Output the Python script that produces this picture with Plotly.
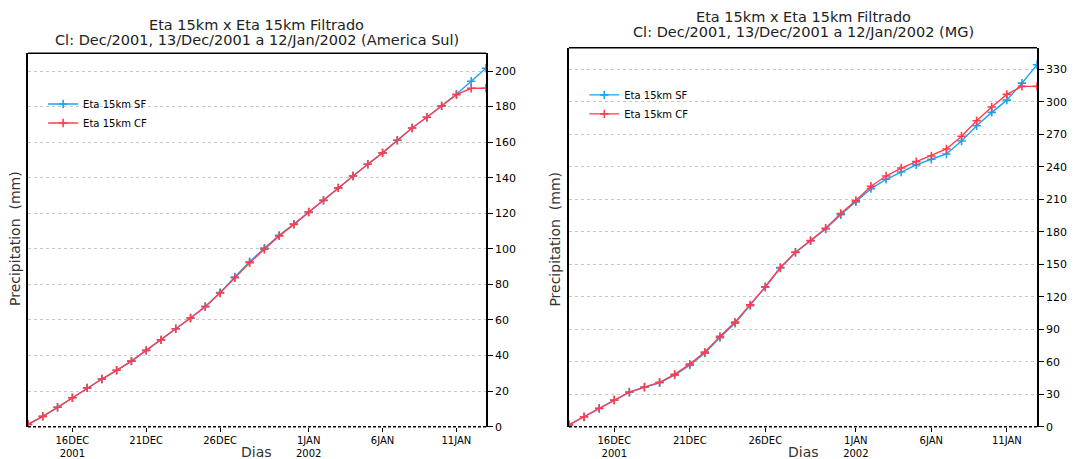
import pandas as pd
import plotly.graph_objects as go

# dias: 13/Dec/2001 .. 13/Jan/2002
dias = pd.date_range("2001-12-13", "2002-01-13", freq="D")

# America Sul (mm acumulado)
sul_sf = [1.3, 5.8, 10.9, 16.3, 21.8, 26.8, 31.7, 36.9, 42.9, 48.8, 55.1, 61.1, 67.6, 75.4, 84.2, 92.8,
          100.4, 107.6, 113.9, 120.7, 127.3, 134.3, 141.0, 147.6, 154.0, 161.1, 168.0, 174.0, 180.4, 187.0,
          194.3, 201.6]
sul_cf = [1.3, 5.8, 10.9, 16.3, 21.8, 26.8, 31.7, 36.9, 42.9, 48.8, 55.1, 61.1, 67.5, 75.2, 83.8, 92.2,
          99.8, 107.3, 113.8, 120.7, 127.3, 134.3, 141.0, 147.6, 154.0, 161.1, 168.0, 174.0, 180.4, 186.7,
          190.3, 190.3]

# MG (mm acumulado)
mg_sf = [1.6, 9.0, 16.8, 24.4, 31.8, 36.4, 40.6, 47.6, 56.9, 67.9, 82.3, 95.6, 111.8, 128.8, 146.6, 160.9,
         171.6, 182.6, 195.8, 207.6, 219.9, 228.5, 235.3, 241.8, 247.0, 251.9, 263.9, 278.0, 290.3, 301.6,
         317.3, 334.3]
mg_cf = [1.6, 9.2, 17.0, 24.6, 32.0, 36.6, 41.0, 48.3, 57.8, 68.9, 83.4, 96.6, 112.5, 129.2, 147.0, 161.2,
         172.0, 183.3, 196.9, 208.9, 222.1, 231.5, 238.9, 244.8, 250.0, 256.5, 268.2, 282.6, 295.2, 306.9,
         314.3, 314.3]

tick_dias = ["2001-12-16", "2001-12-21", "2001-12-26", "2002-01-01", "2002-01-06", "2002-01-11"]
tick_txt = ["16DEC<br>2001", "21DEC", "26DEC", "1JAN<br>2002", "6JAN", "11JAN"]

AZUL = "#1aa3f0"
VERM = "#ff3d4d"
FONTE = "DejaVu Sans"
H = 459

fig = go.Figure()


def serie(y, nome, cor, xa, ya, leg):
    fig.add_trace(go.Scatter(
        x=dias, y=y, name=nome, mode="lines+markers", xaxis=xa, yaxis=ya, legend=leg,
        line=dict(color=cor, width=1.4),
        marker=dict(symbol="cross-thin", size=6, line=dict(color=cor, width=1.6), color=cor)))


serie(sul_sf, "Eta 15km SF", AZUL, "x", "y", "legend")
serie(sul_cf, "Eta 15km CF", VERM, "x", "y", "legend")
serie(mg_sf, "Eta 15km SF", AZUL, "x2", "y2", "legend2")
serie(mg_cf, "Eta 15km CF", VERM, "x2", "y2", "legend2")

xcomum = dict(type="date", range=[dias[0], dias[-1]], tickvals=tick_dias, ticktext=tick_txt,
              showgrid=False, showline=False, ticks="outside", ticklen=4, tickcolor="black",
              tickfont=dict(size=10, family=FONTE, color="black"), zeroline=False, automargin=False)
ycomum = dict(side="right", showline=True, linecolor="black", linewidth=1.5, mirror=True,
              ticks="outside", ticklen=5, tickcolor="black", zeroline=False, automargin=False,
              showgrid=True, gridcolor="#c8c8c8", griddash="dot", gridwidth=1,
              tickfont=dict(size=11, family=FONTE, color="black"))

fig.update_layout(
    width=1078, height=H, margin=dict(l=0, r=0, t=0, b=0, autoexpand=False),
    paper_bgcolor="white", plot_bgcolor="white",
    font=dict(family=FONTE, color="black"),
    xaxis=dict(domain=[0.026, 0.4508], anchor="y", **xcomum),
    yaxis=dict(domain=[0.0704, 0.8839], anchor="x", range=[0, 210], dtick=20, **ycomum),
    xaxis2=dict(domain=[0.5278, 0.962], anchor="y2", **xcomum),
    yaxis2=dict(domain=[0.0704, 0.896], anchor="x2", range=[0, 350], dtick=30, **ycomum),
    legend=dict(x=0.04, y=0.805, xanchor="left", yanchor="top", bgcolor="rgba(0,0,0,0)",
                font=dict(size=10, family=FONTE), itemwidth=30, tracegroupgap=2),
    legend2=dict(x=0.542, y=0.825, xanchor="left", yanchor="top", bgcolor="rgba(0,0,0,0)",
                 font=dict(size=10, family=FONTE), itemwidth=30, tracegroupgap=2),
    showlegend=True,
)

# titulos (duas linhas, posicao em px a partir do topo)
linha1 = "Eta 15km x Eta 15km Filtrado"
titulos = [("x domain", "Cl: Dec/2001, 13/Dec/2001 a 12/Jan/2002 (America Sul)", 25, 40),
           ("x2 domain", "Cl: Dec/2001, 13/Dec/2001 a 12/Jan/2002 (MG)", 17, 32)]
for xr, linha2, y1, y2 in titulos:
    for txt, yy in [(linha1, y1), (linha2, y2)]:
        fig.add_annotation(text=txt, xref=xr, x=0.5, yref="paper", y=1 - yy / H, yanchor="middle",
                           showarrow=False, font=dict(size=14.5, family=FONTE, color="#222"))

for xr in ["x domain", "x2 domain"]:
    fig.add_annotation(text="Precipitation  (mm)", xref=xr, x=-0.03, xanchor="center",
                       yref="paper", y=0.48, textangle=-90, showarrow=False,
                       font=dict(size=14, family=FONTE, color="#333"))
    fig.add_annotation(text="Dias", xref=xr, x=0.5, yref="paper", y=1 - 452 / H, yanchor="middle",
                       showarrow=False, font=dict(size=14, family=FONTE, color="#333"))

# moldura: topo solido, base tracejada
for xr, yr in [("x domain", "y domain"), ("x2 domain", "y2 domain")]:
    fig.add_shape(type="line", xref=xr, yref=yr, x0=0, x1=1, y0=1, y1=1, line=dict(color="black", width=1.5))
    fig.add_shape(type="line", xref=xr, yref=yr, x0=0, x1=1, y0=0, y1=0,
                  line=dict(color="black", width=1.5, dash="3px,2px"))

fig.write_html("out.html", config={"displayModeBar": False},
               post_script="document.body.style.margin='0';document.body.style.overflow='hidden';")
